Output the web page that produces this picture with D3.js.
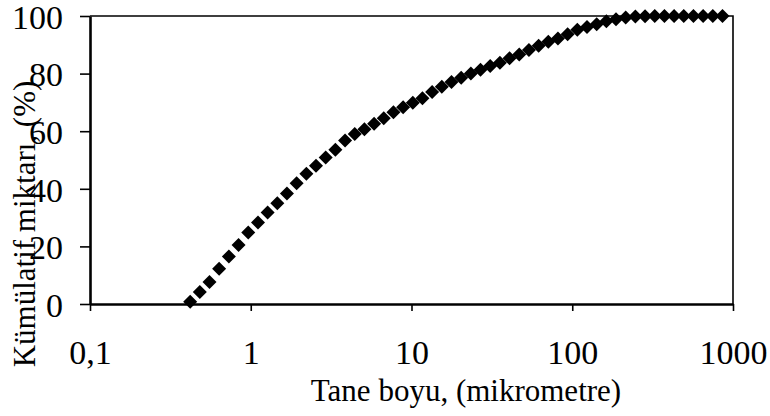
<!DOCTYPE html>
<html>
<head>
<meta charset="utf-8">
<script src="https://cdn.jsdelivr.net/npm/d3@7"></script>
<style>
  body { margin: 0; background: #fff; }
  svg text { font-family: "Liberation Serif", "Times New Roman", serif; fill: #000; }
</style>
</head>
<body>
<div id="plot"></div>
<script>
// grain size (micrometre) and cumulative amount (%)
const sizes = [0.42, 0.482, 0.554, 0.636, 0.731, 0.84, 0.965, 1.109, 1.274, 1.463,
  1.68, 1.93, 2.218, 2.547, 2.926, 3.36, 3.86, 4.435, 5.094, 5.852,
  6.72, 7.72, 8.87, 10.19, 11.7, 13.44, 15.44, 17.74, 20.38, 23.41,
  26.88, 30.88, 35.48, 40.75, 46.81, 53.76, 61.76, 70.95, 81.5, 93.62,
  107.5, 123.5, 141.9, 163.0, 187.2, 215.0, 247.0, 283.8, 326.0, 374.5,
  430.1, 494.1, 567.6, 652.0, 749.0, 860.2];
const cumulative = [0.8, 4.2, 7.6, 12.2, 16.5, 20.5, 24.8, 28.3, 31.8, 35.0,
  38.4, 41.9, 45.2, 48.0, 50.9, 53.6, 56.8, 59.0, 60.7, 62.6,
  64.5, 66.6, 68.3, 69.9, 71.4, 73.6, 75.4, 77.1, 78.6, 80.0,
  81.3, 82.6, 83.8, 85.3, 86.6, 88.2, 89.7, 91.1, 92.2, 93.7,
  95.2, 96.2, 97.1, 98.2, 98.9, 99.5, 99.8, 99.9, 100, 100,
  100, 100, 100, 100, 100, 100];

const xTicks = [0.1, 1, 10, 100, 1000];
const xTickLabels = ["0,1", "1", "10", "100", "1000"];
const yTicks = [0, 20, 40, 60, 80, 100];
const xTitle = "Tane boyu, (mikrometre)";
const yTitle = "Kümülatif miktarı, (%)";

const [W, H] = [770, 416];
const [plotL, plotR, plotT, plotB] = [90, 733, 16, 304];
const tickFont = 34, titleFont = 31;

const svg = d3.select('#plot').append('svg')
  .attr('width', W).attr('height', H);

const xsc = d3.scaleLog().domain([0.1, 1000]).range([plotL, plotR]);
const ysc = d3.scaleLinear().domain([0, 100]).range([plotB, plotT]);

// top and right frame lines
svg.append('path')
  .attr('d', `M${plotL},${plotT}H${plotR}V${plotB}`)
  .attr('fill', 'none').attr('stroke', '#000').attr('stroke-width', 1.6);

// x axis
const xAx = svg.append('g')
  .attr('transform', `translate(0,${plotB})`)
  .call(d3.axisBottom(xsc).tickValues(xTicks)
    .tickFormat((d, i) => xTickLabels[i]).tickSize(7).tickSizeOuter(0));
xAx.select('.domain').attr('stroke-width', 2.6);
xAx.selectAll('.tick line').attr('stroke-width', 1.6);
xAx.selectAll('.tick text').attr('font-size', tickFont)
  .attr('y', 0).attr('dy', 60);

// y axis
const yAx = svg.append('g')
  .attr('transform', `translate(${plotL},0)`)
  .call(d3.axisLeft(ysc).tickValues(yTicks).tickSize(10).tickSizeOuter(0));
yAx.select('.domain').attr('stroke-width', 2.6);
yAx.selectAll('.tick line').attr('stroke-width', 1.6);
yAx.selectAll('.tick text').attr('font-size', tickFont)
  .attr('x', -27).attr('dy', '0.36em');

svg.selectAll('.domain, .tick line').attr('stroke', '#000');

// titles
svg.append('text').text(xTitle)
  .attr('x', 466).attr('y', 401)
  .attr('text-anchor', 'middle').attr('font-size', titleFont);

svg.append('text').text(yTitle)
  .attr('transform', 'translate(35,224) rotate(-90)')
  .attr('text-anchor', 'middle').attr('font-size', titleFont);

// diamond markers
const r = 7;
const diamond = `M0,${-r}L${r},0L0,${r}L${-r},0Z`;
svg.append('g').selectAll('path')
  .data(sizes)
  .join('path')
    .attr('d', diamond)
    .attr('fill', '#000')
    .attr('transform', (d, i) => `translate(${xsc(d)},${ysc(cumulative[i])})`);
</script>
</body>
</html>
